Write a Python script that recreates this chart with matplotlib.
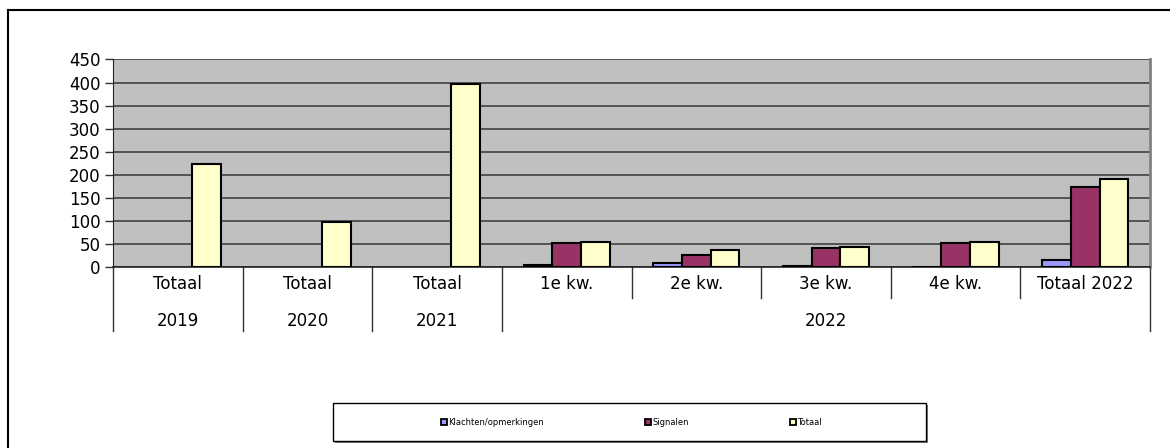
import matplotlib.pyplot as plt
from matplotlib.lines import Line2D
from matplotlib.patches import Rectangle
import numpy as np

# categories (two-level axis)
quarters = ["Totaal", "Totaal", "Totaal", "1e kw.", "2e kw.", "3e kw.", "4e kw.", "Totaal 2022"]
years = ["2019", "2020", "2021", "2022"]
year_spans = [(0, 0), (1, 1), (2, 2), (3, 7)]

series_names = ["Klachten/opmerkingen", "Signalen", "Totaal"]
klachten = [0, 0, 0, 4, 8, 3, 1, 16]
signalen = [0, 0, 0, 51, 27, 41, 52, 173]
totaal = [224, 98, 397, 55, 36, 44, 54, 190]
colors = ["#9999FF", "#993366", "#FFFFCC"]

fig = plt.figure(figsize=(11.7, 4.48), dpi=100)
ax = fig.add_axes([113 / 1170, 1 - 267 / 448, (1150 - 113) / 1170, (267 - 59.5) / 448])
ax.set_facecolor("#C0C0C0")

x = np.arange(len(quarters))
w = 0.222
for i, vals in enumerate([klachten, signalen, totaal]):
    v = np.array(vals, dtype=float)
    mask = v > 0
    ax.bar(x[mask] + (i - 1) * w, v[mask], width=w, color=colors[i],
           edgecolor="black", linewidth=1.5, zorder=3)

ax.set_xlim(-0.5, len(quarters) - 0.5)
ax.set_ylim(0, 450)
ax.set_yticks(range(0, 451, 50))
ax.tick_params(axis="y", labelsize=12, length=6, width=1, color="#333333", pad=3)
ax.set_xticks([])
ax.yaxis.grid(True, color="#404040", linewidth=1.2, zorder=1)
ax.set_axisbelow(True)
ax.spines["top"].set_visible(False)
ax.spines["right"].set_color("#808080")
ax.spines["right"].set_linewidth(2)
ax.spines["left"].set_color("#222222")
ax.spines["bottom"].set_color("#222222")
ax.spines["bottom"].set_linewidth(1.2)

# two-level category labels
tr = ax.get_xaxis_transform()
h = 207.5
y1 = -(298 - 267) / h
y2 = -(331 - 267) / h
for i, q in enumerate(quarters):
    ax.text(i, -(284 - 267) / h, q, transform=tr, ha="center", va="center", fontsize=12)
for i in range(len(quarters) + 1):
    pos = i - 0.5
    full = pos in [-0.5, 0.5, 1.5, 2.5, 7.5]
    ax.plot([pos, pos], [0, y2 if full else y1], transform=tr, color="#333333",
            linewidth=1, clip_on=False)
for name, (a, b) in zip(years, year_spans):
    ax.text((a + b) / 2, -(321 - 267) / h, name, transform=tr, ha="center",
            va="center", fontsize=12)

# outer frame (clipped on right/bottom)
fig.add_artist(Line2D([8 / 1170, 1], [1 - 10 / 448] * 2, color="black", linewidth=1.5))
fig.add_artist(Line2D([8 / 1170] * 2, [0, 1 - 10 / 448], color="black", linewidth=1.5))

# legend box with shadow
lx0, lx1, ly0, ly1 = 333 / 1170, 926 / 1170, 1 - 441 / 448, 1 - 403 / 448
fig.add_artist(Rectangle((lx0 + 2 / 1170, ly0 - 2 / 448), lx1 - lx0, ly1 - ly0,
                         facecolor="#808080", edgecolor="none"))
fig.add_artist(Rectangle((lx0, ly0), lx1 - lx0, ly1 - ly0, facecolor="white",
                         edgecolor="black", linewidth=1))
handles = [Line2D([], [], marker="s", ls="", mfc=c, mec="black", ms=5, mew=1.3) for c in colors]
fig.legend(handles, series_names, loc="center", bbox_to_anchor=(632 / 1170, 1 - 422 / 448),
           ncol=3, frameon=False, fontsize=6, handlelength=0.6, handletextpad=0.2,
           columnspacing=12.2)

fig.savefig("out.png", dpi=100)
